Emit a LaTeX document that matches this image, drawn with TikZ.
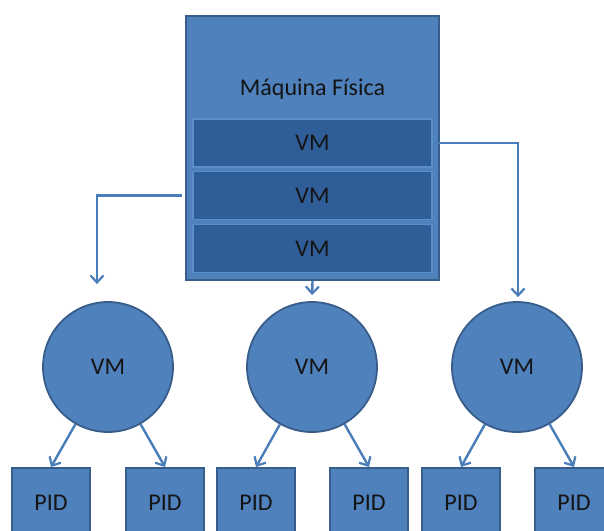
\documentclass[tikz,border=0pt]{standalone}
\usepackage{fontspec}
\setmainfont{Carlito}
\usetikzlibrary{arrows.meta}
\definecolor{boxblue}{HTML}{4F81BD}
\definecolor{bardark}{HTML}{2F5D98}
\definecolor{baredge}{HTML}{5B8DC8}
\definecolor{edgeblue}{HTML}{385D8A}
\definecolor{linkblue}{HTML}{4A7EBB}
\definecolor{ink}{HTML}{141414}
\begin{document}
\begin{tikzpicture}[x=1pt,y=-1pt,
  every node/.style={text=ink, font=\fontsize{24}{28}\selectfont, inner sep=0pt},
  hostbox/.style={draw=edgeblue, line width=2pt, fill=boxblue, rectangle},
  vmbar/.style={draw=baredge, line width=1.2pt, fill=bardark, rectangle,
                minimum width=239pt, minimum height=48pt},
  vmcircle/.style={draw=edgeblue, line width=1.8pt, fill=boxblue, circle,
                   minimum size=130pt},
  pidbox/.style={draw=edgeblue, line width=2pt, fill=boxblue, rectangle,
                 minimum width=78pt, minimum height=70pt},
  link/.style={draw=linkblue, line width=2.4pt,
               -{Straight Barb[length=7pt,width=13pt,line width=2.2pt]}}]
\useasboundingbox (0,0) rectangle (604,530);
\clip (0,0) rectangle (604,530);

% physical host with its three VM slots
\node[hostbox, minimum width=253pt, minimum height=264pt] (host) at (312.5,148) {};
\node (hostlabel) at (312.5,89) {Máquina Física};
\node[vmbar] (vm1) at (312.5,143) {VM};
\node[vmbar] (vm2) at (312.5,195.5) {VM};
\node[vmbar] (vm3) at (312.5,248.5) {VM};

% virtual machines
\node[vmcircle] (vmL) at (108,367) {VM};
\node[vmcircle] (vmC) at (312,367) {VM};
\node[vmcircle] (vmR) at (517,367) {VM};

% processes
\node[pidbox] (p1) at (51,503) {PID};
\node[pidbox] (p2) at (165,503) {PID};
\node[pidbox] (p3) at (256,503) {PID};
\node[pidbox] (p4) at (369,503) {PID};
\node[pidbox] (p5) at (461,503) {PID};
\node[pidbox] (p6) at (574,503) {PID};

% host to VMs
\draw[link, shorten >=17pt] ([xshift=-3pt]host.west |- vm2.center) -| ([xshift=-11pt]vmL.north);
\draw[link, shorten >=6pt] (host.south) -- (vmC.north);
\draw[link, shorten >=4pt] ([xshift=1pt]vm1.east) -| ([xshift=1pt]vmR.north);

% VMs to processes
\draw[link] (vmL) -- (p1.north);
\draw[link] (vmL) -- (p2.north);
\draw[link] (vmC) -- (p3.north);
\draw[link] (vmC) -- (p4.north);
\draw[link] (vmR) -- (p5.north);
\draw[link] (vmR) -- (p6.north);
\end{tikzpicture}
\end{document}
